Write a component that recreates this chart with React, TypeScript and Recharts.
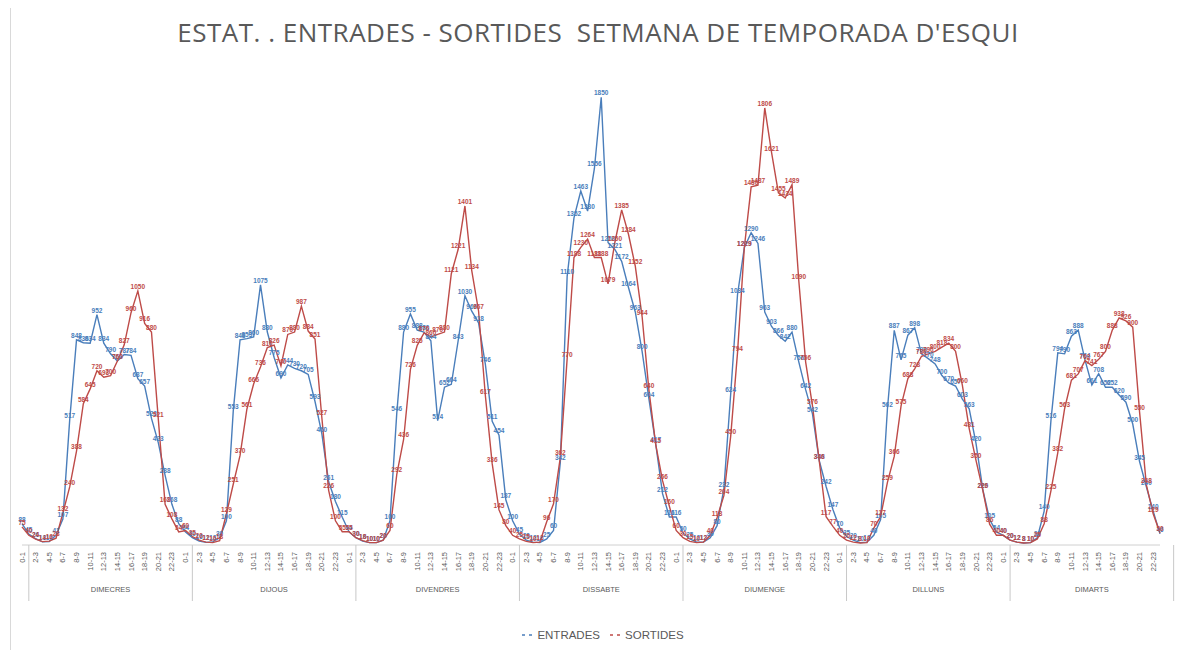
import { LineChart, Line, XAxis, YAxis, LabelList } from 'recharts';

const DAYS = ['DIMECRES', 'DIJOUS', 'DIVENDRES', 'DISSABTE', 'DIUMENGE', 'DILLUNS', 'DIMARTS'];

const HOURS = [
  '0-1', '1-2', '2-3', '3-4', '4-5', '5-6', '6-7', '7-8', '8-9', '9-10', '10-11', '11-12',
  '12-13', '13-14', '14-15', '15-16', '16-17', '17-18', '18-19', '19-20', '20-21', '21-22', '22-23', '23-24',
];

// entrades per dia (una xifra per hora)
const entDimecres = [88, 45, 26, 13, 14, 41, 107, 517, 848, 836, 834, 952, 834, 790, 760, 787, 784, 687, 657, 523, 423, 288, 168, 88];
const entDijous = [54, 30, 16, 11, 13, 30, 100, 553, 848, 853, 860, 1075, 880, 775, 690, 744, 730, 720, 705, 593, 460, 261, 180, 115];
const entDivendres = [54, 30, 16, 10, 10, 20, 100, 546, 880, 955, 888, 880, 844, 514, 652, 664, 843, 1030, 966, 918, 746, 511, 454, 187];
const entDissabte = [100, 45, 20, 12, 10, 25, 60, 342, 1110, 1352, 1463, 1380, 1556, 1850, 1250, 1221, 1172, 1064, 963, 800, 604, 417, 212, 116];
const entDiumenge = [116, 50, 25, 12, 12, 30, 80, 232, 624, 1034, 1229, 1290, 1246, 963, 903, 866, 842, 880, 756, 642, 542, 348, 242, 147];
const entDilluns = [70, 35, 20, 10, 12, 40, 105, 562, 887, 765, 867, 898, 790, 770, 748, 700, 670, 657, 603, 563, 420, 229, 105, 54];
const entDimarts = [40, 20, 12, 8, 10, 30, 140, 516, 794, 790, 863, 888, 764, 661, 708, 652, 652, 620, 590, 500, 345, 240, 140, 46];

// sortides per dia
const sorDimecres = [75, 40, 24, 14, 16, 28, 132, 240, 388, 584, 645, 720, 693, 700, 760, 827, 960, 1050, 916, 880, 521, 168, 108, 54];
const sorDijous = [60, 35, 20, 12, 10, 18, 129, 251, 370, 561, 666, 736, 816, 826, 740, 870, 880, 987, 884, 851, 527, 226, 100, 55];
const sorDivendres = [55, 30, 18, 10, 10, 20, 60, 292, 436, 726, 825, 876, 860, 870, 880, 1121, 1221, 1401, 1134, 967, 617, 336, 145, 80];
const sorDissabte = [40, 25, 15, 10, 12, 96, 170, 362, 770, 1188, 1230, 1264, 1188, 1188, 1079, 1250, 1385, 1284, 1152, 944, 640, 415, 266, 160];
const sorDiumenge = [60, 30, 15, 10, 12, 40, 113, 204, 450, 794, 1229, 1480, 1487, 1806, 1621, 1455, 1434, 1489, 1090, 756, 576, 346, 117, 77];
const sorDilluns = [40, 20, 12, 8, 10, 70, 117, 259, 366, 575, 688, 728, 780, 790, 800, 818, 834, 800, 660, 481, 350, 226, 86, 40];
const sorDimarts = [40, 20, 12, 8, 10, 25, 88, 225, 382, 563, 681, 707, 762, 741, 767, 800, 888, 938, 926, 900, 550, 248, 129, 50];

const ENTRADES = [entDimecres, entDijous, entDivendres, entDissabte, entDiumenge, entDilluns, entDimarts];
const SORTIDES = [sorDimecres, sorDijous, sorDivendres, sorDissabte, sorDiumenge, sorDilluns, sorDimarts];

const data = DAYS.flatMap((day, d) =>
  HOURS.map((hour, h) => ({
    key: `${d}-${h}`,
    day,
    hour,
    h,
    entrades: ENTRADES[d][h],
    sortides: SORTIDES[d][h],
  }))
);

const W = 1170;
const H = 642;
const M = { top: 53, right: 18, bottom: 45, left: 14 };
const STEP = (W - M.left - M.right) / (data.length - 1);

const BLUE = '#4a7ebb';
const RED = '#be4b48';
const GREY = '#595959';
const FONT = '"Liberation Sans", Arial, sans-serif';

const AxisTick = (props: any) => {
  const { x, y, payload } = props;
  const i = payload?.index ?? props.index;
  const row = data[i];
  if (!row) return null;
  const last = i === data.length - 1;
  return (
    <g>
      {row.h % 2 === 0 && (
        <text
          transform={`translate(${x + 2.5},${y + 7}) rotate(-90)`}
          textAnchor="end"
          fontSize={7.5}
          fontFamily={FONT}
          fill={GREY}
        >
          {row.hour}
        </text>
      )}
      {row.h === 1 && <line x1={x} x2={x} y1={y} y2={y + 56} stroke="#c8c8c8" strokeWidth={1} />}
      {row.h === 13 && (
        <text x={x} y={y + 47} textAnchor="middle" fontSize={7.5} fontFamily={FONT} fill={GREY}>
          {row.day}
        </text>
      )}
      {last && <line x1={x + 2 * STEP} x2={x + 2 * STEP} y1={y} y2={y + 56} stroke="#c8c8c8" strokeWidth={1} />}
    </g>
  );
};

const LegendItem = ({ color, label }: { color: string; label: string }) => (
  <span style={{ display: 'inline-flex', alignItems: 'center', margin: '0 5px' }}>
    <svg width={14} height={6}>
      <line x1={0} x2={14} y1={3} y2={3} stroke={color} strokeWidth={1.5} strokeDasharray="3 4" />
    </svg>
    <span style={{ marginLeft: 1 }}>{label}</span>
  </span>
);

export default function App() {
  return (
    <div style={{ position: 'relative', width: W, height: H, fontFamily: FONT }}>
      <div style={{ position: 'absolute', left: 2, top: 0, bottom: 0, width: 1, background: '#d9d9d9' }} />
      <div
        style={{
          position: 'absolute',
          left: 0,
          top: 6,
          width: W + 10,
          textAlign: 'center',
          fontSize: 26,
          color: GREY,
          fontFamily: '"Open Sans", sans-serif',
          letterSpacing: 0.5,
          whiteSpace: 'pre',
        }}
      >
        {"ESTAT. . ENTRADES - SORTIDES  SETMANA DE TEMPORADA D'ESQUI"}
      </div>
      <LineChart width={W} height={H} data={data} margin={M}>
        <XAxis
          dataKey="key"
          interval={0}
          tick={<AxisTick />}
          tickLine={false}
          tickSize={0}
          tickMargin={0}
          height={60}
          axisLine={{ stroke: '#d0d0d0' }}
        />
        <YAxis hide domain={[0, 2000]} />
        <Line
          type="linear"
          dataKey="entrades"
          name="ENTRADES"
          stroke={BLUE}
          strokeWidth={1.4}
          dot={false}
          isAnimationActive={false}
        >
          <LabelList dataKey="entrades" position="top" offset={2} fontSize={6.5} fontWeight="bold" fill={BLUE} fontFamily={FONT} />
        </Line>
        <Line
          type="linear"
          dataKey="sortides"
          name="SORTIDES"
          stroke={RED}
          strokeWidth={1.4}
          dot={false}
          isAnimationActive={false}
        >
          <LabelList dataKey="sortides" position="top" offset={2} fontSize={6.5} fontWeight="bold" fill={RED} fontFamily={FONT} />
        </Line>
      </LineChart>
      <div
        style={{
          position: 'absolute',
          left: 0,
          width: W + 20,
          top: 620,
          textAlign: 'center',
          fontSize: 11.5,
          color: GREY,
        }}
      >
        <LegendItem color={BLUE} label="ENTRADES" />
        <LegendItem color={RED} label="SORTIDES" />
      </div>
    </div>
  );
}
